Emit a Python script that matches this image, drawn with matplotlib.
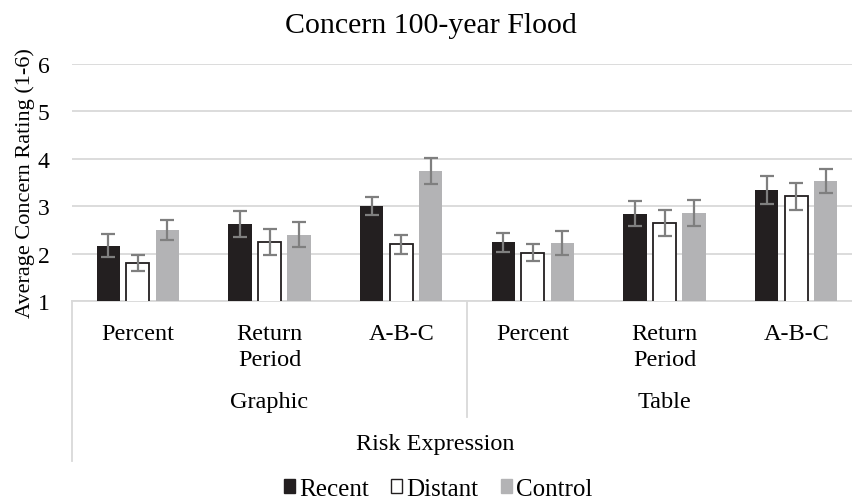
import numpy as np
import matplotlib
matplotlib.use("Agg")
import matplotlib.pyplot as plt
from matplotlib.patches import Patch

# ==== data ====
categories = ["Percent", "Return\nPeriod", "A-B-C", "Percent", "Return\nPeriod", "A-B-C"]
groups = ["Graphic", "Table"]
series = ["Recent", "Distant", "Control"]

recent = [2.17, 2.62, 3.00, 2.24, 2.84, 3.34]
distant = [1.80, 2.24, 2.20, 2.02, 2.64, 3.21]
control = [2.50, 2.40, 3.74, 2.22, 2.86, 3.53]

recent_err = [0.24, 0.28, 0.19, 0.20, 0.26, 0.29]
distant_err = [0.17, 0.28, 0.20, 0.18, 0.27, 0.29]
control_err = [0.21, 0.27, 0.28, 0.25, 0.28, 0.25]

plt.rcParams["font.family"] = ["Liberation Serif", "DejaVu Serif"]

fig = plt.figure(figsize=(8.52, 5.02), dpi=100)
ax = fig.add_axes([72 / 852, 1 - 302 / 502, 790 / 852, 237 / 502])

x = np.arange(len(categories))
w = 0.175
off = 0.224
err_style = dict(ecolor="#7f7f7f", elinewidth=1.6, capsize=5, capthick=1.6)

ax.bar(x - off, recent, w, color="#231f20", yerr=recent_err,
       error_kw=err_style, zorder=3)
ax.bar(x, distant, w, color="white", edgecolor="#231f20", linewidth=1.3,
       yerr=distant_err, error_kw=err_style, zorder=3)
ax.bar(x + off, control, w, color="#b3b3b5", yerr=control_err,
       error_kw=err_style, zorder=3)

ax.set_ylim(1, 6)
ax.set_xlim(-0.5, len(categories) - 0.5)
ax.set_yticks(range(1, 7))
ax.tick_params(axis="y", length=0, labelsize=17, pad=16)
ax.set_xticks([])
ax.grid(axis="y", color="#d9d9d9", linewidth=1.3, zorder=0)
for s in ["top", "right", "left"]:
    ax.spines[s].set_visible(False)
ax.spines["bottom"].set_color("#d9d9d9")
ax.spines["bottom"].set_linewidth(1.3)

ax.set_ylabel("Average Concern Rating (1-6)", fontsize=16, labelpad=2)
fig.text(0.506, 1 - 26 / 502, "Concern 100-year Flood", ha="center",
         va="center", fontsize=21.5)

# category labels below axis
tr = ax.get_xaxis_transform()
for xi, lab in zip(x, categories):
    ax.text(xi, -0.092, lab, transform=tr, ha="center", va="top",
            fontsize=17.5, linespacing=1.3)
for gi, g in enumerate(groups):
    ax.text(gi * 3 + 1, -0.426, g, transform=tr, ha="center", va="center",
            fontsize=17.5)
ax.text(0.46, -0.603, "Risk Expression", transform=ax.transAxes,
        ha="center", va="center", fontsize=17.5)

# separator lines
ax.plot([-0.5, -0.5], [0, -0.675], transform=tr, color="#d9d9d9",
        linewidth=1.3, clip_on=False)
ax.plot([2.5, 2.5], [0, -0.49], transform=tr, color="#d9d9d9",
        linewidth=1.3, clip_on=False)

handles = [Patch(facecolor="#231f20", edgecolor="#231f20"),
           Patch(facecolor="white", edgecolor="#231f20"),
           Patch(facecolor="#b3b3b5", edgecolor="#b3b3b5")]
fig.legend(handles, series, loc="center", bbox_to_anchor=(0.514, 1 - 490 / 502),
           ncol=3, frameon=False, fontsize=18, handlelength=0.45, handleheight=0.45,
           handletextpad=0.15, columnspacing=0.9, borderpad=0)

fig.savefig("out.png", dpi=100)
